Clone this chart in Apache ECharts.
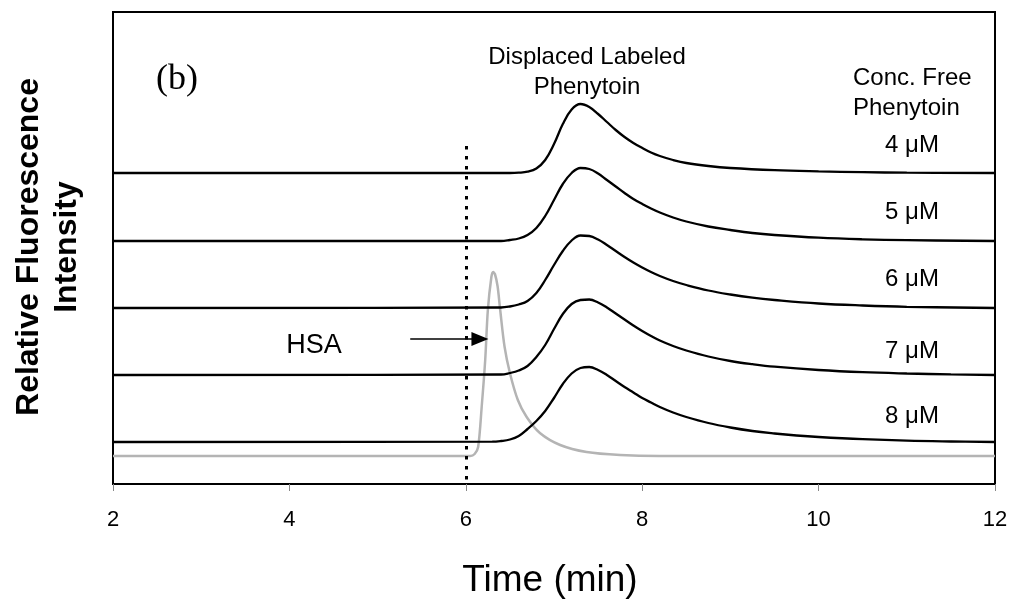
<!DOCTYPE html>
<html>
<head>
<meta charset="utf-8">
<script src="https://cdn.jsdelivr.net/npm/echarts@6/dist/echarts.min.js"></script>
<style>
  html, body { margin: 0; padding: 0; background: #fff; }
  #chart { width: 1012px; height: 603px; }
</style>
</head>
<body>
<div id="chart"></div>
<script>
// time ticks (min)
const xTicks = [2, 4, 6, 8, 10, 12];

// traces: [time (min), relative intensity (offset units)]
const trace4uM = [[2, 311], [6.5, 311], [6.6, 311.3], [6.7, 312.3], [6.8, 315.5], [6.9, 324], [7.0, 340], [7.1, 360],
  [7.2, 374.5], [7.3, 380], [7.4, 377], [7.5, 370], [7.6, 362], [7.7, 354], [7.8, 347], [7.9, 341], [8.0, 336],
  [8.1, 331.5], [8.2, 328], [8.35, 324], [8.5, 321], [8.75, 318], [9.0, 316], [9.5, 313.8], [10, 312.6],
  [10.5, 311.8], [11, 311.3], [12, 311]];
const trace5uM = [[2, 243], [6.4, 243], [6.5, 244], [6.6, 245.5], [6.7, 249], [6.8, 256], [6.9, 268], [7.0, 284],
  [7.1, 300], [7.2, 311], [7.3, 316], [7.4, 315], [7.5, 310.5], [7.6, 304], [7.7, 297.5], [7.8, 291], [7.9, 285],
  [8.0, 280], [8.1, 275.5], [8.2, 271.5], [8.35, 266.5], [8.5, 262.5], [8.75, 257.5], [9.0, 254], [9.25, 251],
  [9.5, 249], [10, 246.3], [10.5, 244.7], [11, 243.8], [12, 243]];
const trace6uM = [[2, 176], [6.4, 176.5], [6.5, 177.5], [6.6, 179.5], [6.7, 183], [6.8, 191], [6.9, 204], [7.0, 219],
  [7.1, 233], [7.2, 243.5], [7.3, 248.5], [7.4, 248], [7.5, 244.5], [7.6, 239], [7.7, 233], [7.8, 227], [7.9, 221.5],
  [8.0, 216.5], [8.1, 212], [8.2, 208], [8.35, 203], [8.5, 199], [8.75, 193.5], [9.0, 189.5], [9.25, 186.3],
  [9.5, 184], [10, 180.5], [10.5, 178.5], [11, 177.2], [12, 176]];
const trace7uM = [[2, 109], [6.4, 109.5], [6.5, 111], [6.6, 113.5], [6.7, 118], [6.8, 127], [6.9, 139], [7.0, 155],
  [7.1, 170], [7.2, 180], [7.3, 184], [7.4, 184.5], [7.5, 181.5], [7.6, 176.5], [7.7, 170.5], [7.8, 164.5],
  [7.9, 158.5], [8.0, 153], [8.1, 148], [8.2, 143.5], [8.35, 138], [8.5, 133.5], [8.75, 127.5], [9.0, 123],
  [9.25, 119.8], [9.5, 117.3], [10, 114], [10.5, 111.8], [11, 110.5], [11.5, 109.6], [12, 109]];
const trace8uM = [[2, 42], [6.3, 42.3], [6.4, 43], [6.5, 44.5], [6.6, 48], [6.7, 55], [6.8, 63], [6.9, 73], [7.0, 86],
  [7.1, 100], [7.2, 110.5], [7.3, 116], [7.4, 117], [7.5, 114], [7.6, 109], [7.7, 103], [7.8, 97], [7.9, 91.5],
  [8.0, 86], [8.1, 81.5], [8.2, 77], [8.35, 71.5], [8.5, 67], [8.75, 61], [9.0, 56.5], [9.25, 53], [9.5, 50.5],
  [9.75, 48.5], [10, 47], [10.5, 44.8], [11, 43.3], [11.5, 42.5], [12, 42]];
const traceHSA = [[2, 28], [6.05, 28], [6.1, 30], [6.14, 37], [6.18, 77], [6.22, 124], [6.25, 174], [6.29, 207], [6.31, 212],
  [6.33, 210], [6.36, 198], [6.39, 174], [6.44, 137], [6.5, 111], [6.59, 84], [6.69, 67], [6.84, 51], [7.07, 39],
  [7.37, 32], [7.75, 29], [8.2, 28], [12, 28]];

const concLabels = ['4 μM', '5 μM', '6 μM', '7 μM', '8 μM'];
const blackTraces = [trace4uM, trace5uM, trace6uM, trace7uM, trace8uM];

const chart = echarts.init(document.getElementById('chart'));
const font = 'Liberation Sans, Arial, sans-serif';

const series = blackTraces.map((d, i) => ({
  name: concLabels[i],
  type: 'line',
  data: d,
  smooth: 0.4,
  symbol: 'none',
  lineStyle: { color: '#000', width: 2.3 },
  z: 3
}));

series.push({
  name: 'HSA',
  type: 'line',
  data: traceHSA,
  smooth: 0.3,
  symbol: 'none',
  lineStyle: { color: '#b4b4b4', width: 2.5 },
  z: 2,
  markLine: {
    silent: true,
    symbol: 'none',
    animation: false,
    label: { show: false },
    lineStyle: { color: '#000', width: 3, type: [3.5, 6.5] },
    data: [[{ coord: [6, 338] }, { coord: [6, 0] }]]
  }
});

// arrow pointing at HSA peak
series.push({
  type: 'line',
  data: [],
  markLine: {
    silent: true,
    animation: false,
    symbol: ['none', 'triangle'],
    symbolSize: [14, 17],
    label: { show: false },
    lineStyle: { color: '#000', width: 1.5, type: 'solid' },
    itemStyle: { color: '#000' },
    data: [[{ coord: [5.37, 145] }, { coord: [6.16, 145] }]]
  }
});

const labelY = [145, 212, 279, 351, 416];
const txt = (x, y, text, size, extra) => Object.assign({
  type: 'text', x: x, y: y,
  style: { text: text, fontFamily: font, fontSize: size, fill: '#000', align: 'center', verticalAlign: 'middle' }
}, extra || {});

const graphic = [
  { type: 'text', x: 177, y: 80, style: { text: '(b)', fontFamily: 'Liberation Serif, Times New Roman, serif', fontSize: 36, fill: '#000', align: 'center', verticalAlign: 'middle' } },
  txt(587, 57, 'Displaced Labeled', 24),
  txt(587, 87, 'Phenytoin', 24),
  { type: 'text', x: 853, y: 78, style: { text: 'Conc. Free', fontFamily: font, fontSize: 24, fill: '#000', align: 'left', verticalAlign: 'middle' } },
  { type: 'text', x: 853, y: 108, style: { text: 'Phenytoin', fontFamily: font, fontSize: 24, fill: '#000', align: 'left', verticalAlign: 'middle' } },
  txt(314, 346, 'HSA', 27),
  txt(550, 581, 'Time (min)', 37),
  { type: 'text', x: 29, y: 247, rotation: Math.PI / 2, style: { text: 'Relative Fluorescence', fontFamily: font, fontWeight: 'bold', fontSize: 32, fill: '#000', align: 'center', verticalAlign: 'middle' } },
  { type: 'text', x: 67, y: 247, rotation: Math.PI / 2, style: { text: 'Intensity', fontFamily: font, fontWeight: 'bold', fontSize: 32, fill: '#000', align: 'center', verticalAlign: 'middle' } }
];
concLabels.forEach((t, i) => {
  graphic.push(txt(912, labelY[i], t, 24));
});

chart.setOption({
  animation: false,
  backgroundColor: '#fff',
  grid: { left: 113, right: 17, top: 12, bottom: 119, show: true, borderColor: '#000', borderWidth: 2, backgroundColor: 'transparent' },
  xAxis: {
    type: 'value',
    min: xTicks[0],
    max: xTicks[xTicks.length - 1],
    interval: 2,
    axisLine: { show: true, lineStyle: { color: '#000', width: 2 } },
    axisTick: { show: true, length: 7, lineStyle: { color: '#888', width: 1 } },
    axisLabel: { color: '#000', fontSize: 22, fontFamily: font, margin: 25 },
    splitLine: { show: false }
  },
  yAxis: {
    type: 'value',
    min: 0,
    max: 472,
    axisLine: { show: false },
    axisTick: { show: false },
    axisLabel: { show: false },
    splitLine: { show: false }
  },
  graphic: graphic,
  series: series
});
</script>
</body>
</html>
